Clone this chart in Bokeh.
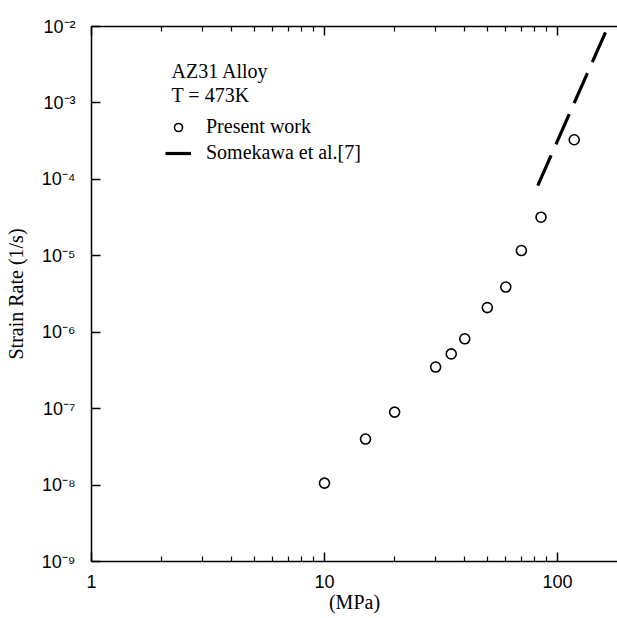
from bokeh.plotting import figure
from bokeh.models import (LogAxis, FixedTicker, Legend, LegendItem, Label, Range1d)
from bokeh.embed import file_html
from bokeh.resources import INLINE

# ---- data ----
stress_mpa = [10, 15, 20, 30, 35, 40, 50, 60, 70, 85, 118]
strain_rate = [1.06e-8, 4.0e-8, 9.0e-8, 3.5e-7, 5.2e-7, 8.2e-7, 2.1e-6, 3.9e-6, 1.17e-5, 3.2e-5, 3.3e-4]

somekawa_stress = [82.3, 160.7]
somekawa_rate = [8.3e-5, 8.4e-3]

x_major = [1, 10, 100]
x_minor = [2, 3, 4, 5, 6, 7, 8, 9, 20, 30, 40, 50, 60, 70, 80, 90, 200]
x_labels = ["1", "10", "100"]

y_major = [1e-9, 1e-8, 1e-7, 1e-6, 1e-5, 1e-4, 1e-3, 1e-2]
y_labels = ["10\u207b\u2079", "10\u207b\u2078", "10\u207b\u2077", "10\u207b\u2076",
            "10\u207b\u2075", "10\u207b\u2074", "10\u207b\u00b3", "10\u207b\u00b2"]

title_lines = ["AZ31 Alloy", "T = 473K"]
series_names = ["Present work", "Somekawa et al.[7]"]

SERIF = "Liberation Serif"
TICKFONT = "Liberation Sans"

p = figure(width=617, height=618, x_axis_type="log", y_axis_type="log",
           x_range=Range1d(1, 181), y_range=Range1d(1e-9, 1e-2),
           output_backend="svg", toolbar_location=None,
           min_border_left=91, min_border_right=0, min_border_top=26, min_border_bottom=57)
p.grid.visible = False
p.outline_line_color = None
p.background_fill_color = "white"
p.border_fill_color = "white"

# bottom axis
xa = p.xaxis[0]
xa.ticker = FixedTicker(ticks=x_major, minor_ticks=x_minor)
xa.major_label_overrides = {v: s for v, s in zip(x_major, x_labels)}
xa.major_tick_in = 9
xa.major_tick_out = 0
xa.minor_tick_in = 5
xa.minor_tick_out = 0
xa.axis_line_width = 1.5
xa.major_tick_line_width = 1.5
xa.minor_tick_line_width = 1.2
xa.axis_line_color = "black"
xa.major_tick_line_color = "black"
xa.minor_tick_line_color = "black"
xa.major_label_text_font = TICKFONT
xa.major_label_text_font_size = "18px"
xa.major_label_text_color = "black"
xa.major_label_standoff = 13
xa.axis_label = "(MPa)"
xa.axis_label_text_font = SERIF
xa.axis_label_text_font_style = "normal"
xa.axis_label_text_font_size = "20px"
xa.axis_label_text_color = "black"
xa.axis_label_standoff = 0

# left axis
ya = p.yaxis[0]
ya.ticker = FixedTicker(ticks=y_major, minor_ticks=[])
ya.major_label_overrides = {v: s for v, s in zip(y_major, y_labels)}
ya.major_tick_in = 9
ya.major_tick_out = 0
ya.minor_tick_line_color = None
ya.axis_line_width = 1.5
ya.major_tick_line_width = 1.5
ya.axis_line_color = "black"
ya.major_tick_line_color = "black"
ya.major_label_text_font = TICKFONT
ya.major_label_text_font_size = "18px"
ya.major_label_text_color = "black"
ya.major_label_standoff = 16
ya.axis_label = "Strain Rate (1/s)"
ya.axis_label_text_font = SERIF
ya.axis_label_text_font_style = "normal"
ya.axis_label_text_font_size = "20px"
ya.axis_label_text_color = "black"
ya.axis_label_standoff = 12

# top axis (ticks only, labels invisible)
top = LogAxis(ticker=FixedTicker(ticks=x_major, minor_ticks=x_minor),
              major_label_text_font_size="6px", major_label_text_color=None,
              major_label_standoff=0,
              major_tick_in=9, major_tick_out=0, minor_tick_in=5, minor_tick_out=0,
              axis_line_width=1.5, major_tick_line_width=1.5, minor_tick_line_width=1.2,
              axis_line_color="black", major_tick_line_color="black",
              minor_tick_line_color="black")
p.add_layout(top, "above")

# data
r_line = p.line(somekawa_stress, somekawa_rate, line_color="black", line_width=3.2,
                line_dash="33 12")
r_pts = p.scatter(stress_mpa, strain_rate, marker="circle", size=10,
                  fill_color="white", line_color="black", line_width=1.6)

# annotations
p.add_layout(Label(x=80, y=491, x_units="screen", y_units="screen", text=title_lines[0],
                   text_font=SERIF, text_font_size="20px", text_color="black",
                   text_baseline="alphabetic"))
p.add_layout(Label(x=80, y=467, x_units="screen", y_units="screen", text=title_lines[1],
                   text_font=SERIF, text_font_size="20px", text_color="black",
                   text_baseline="alphabetic"))

legend = Legend(items=[LegendItem(label=series_names[0], renderers=[r_pts]),
                       LegendItem(label=series_names[1], renderers=[r_line])],
                location=(74, 397), border_line_color=None, background_fill_alpha=0,
                padding=0, margin=0, spacing=3, glyph_width=26, glyph_height=20,
                label_height=20, label_standoff=15, label_text_font=SERIF,
                label_text_font_size="20px", label_text_color="black")
p.add_layout(legend)

open("out.html", "w").write(file_html(p, INLINE))
